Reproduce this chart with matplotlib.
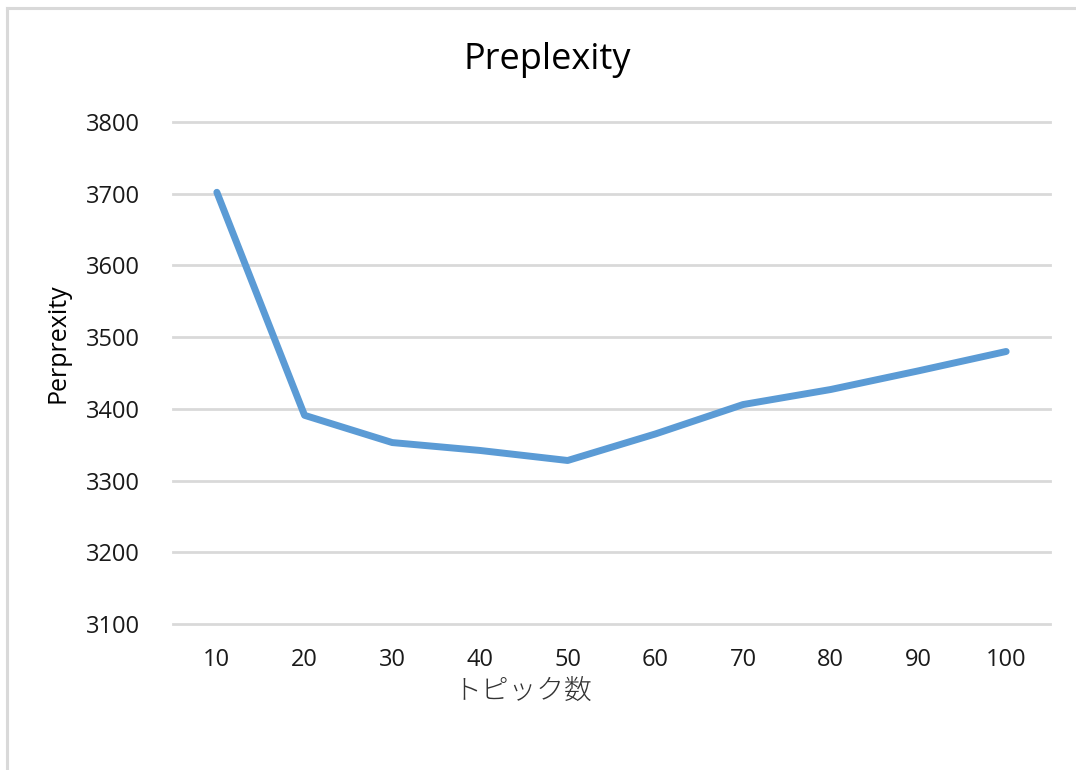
import matplotlib
matplotlib.use("Agg")
import matplotlib.pyplot as plt
from matplotlib.lines import Line2D

plt.rcParams["font.family"] = ["Open Sans", "Noto Sans CJK JP", "DejaVu Sans"]

topics = ["10", "20", "30", "40", "50", "60", "70", "80", "90", "100"]
perplexity = [3702, 3391, 3353, 3342, 3328, 3365, 3406, 3427, 3453, 3480]
y_ticks = [3100, 3200, 3300, 3400, 3500, 3600, 3700, 3800]

W, H = 1076, 770
LINE_BLUE = "#5B9BD5"
GRID_GRAY = "#D9D9D9"
TEXT = "#1a1a1a"


def main():
    fig = plt.figure(figsize=(W / 100, H / 100), dpi=100)
    fig.patch.set_facecolor("white")

    # chart frame (top and left edges only)
    fig.add_artist(Line2D([7 / W, 1.0], [1 - 8 / H, 1 - 8 / H], color=GRID_GRAY, lw=2.2,
                          transform=fig.transFigure))
    fig.add_artist(Line2D([7 / W, 7 / W], [0.0, 1 - 8 / H], color=GRID_GRAY, lw=2.2,
                          transform=fig.transFigure))

    ax = fig.add_axes([173 / W, 1 - 624 / H, (1050 - 173) / W, (624 - 122) / H])
    x = list(range(len(topics)))
    ax.plot(x, perplexity, color=LINE_BLUE, lw=5.0, solid_joinstyle="round",
            solid_capstyle="round", zorder=3)

    ax.set_xlim(-0.5, len(topics) - 0.5)
    ax.set_ylim(y_ticks[0], y_ticks[-1])
    ax.set_yticks(y_ticks)
    ax.set_xticks(x)
    ax.set_xticklabels(topics)
    ax.grid(axis="y", color=GRID_GRAY, lw=2.0)
    for gl in ax.get_ygridlines():
        gl.set_clip_on(False)
    ax.set_axisbelow(True)
    for side in ax.spines.values():
        side.set_visible(False)
    ax.tick_params(axis="both", length=0, labelsize=17, colors=TEXT)
    ax.tick_params(axis="y", pad=24)
    ax.tick_params(axis="x", pad=17)

    fig.text(547 / W, 1 - 60 / H, "Preplexity", ha="center", va="center",
             fontsize=26, color="black")
    fig.text(58 / W, 1 - 343 / H, "Perprexity", ha="center", va="center",
             rotation=90, fontsize=18, color="black")
    fig.text(523 / W, 1 - 691 / H, "トピック数", ha="center", va="center",
             fontsize=20, color="#333333", family=["Noto Sans CJK JP", "DejaVu Sans"],
             fontweight="light")

    fig.savefig("out.png", dpi=100)
    plt.close(fig)


if __name__ == "__main__":
    main()
